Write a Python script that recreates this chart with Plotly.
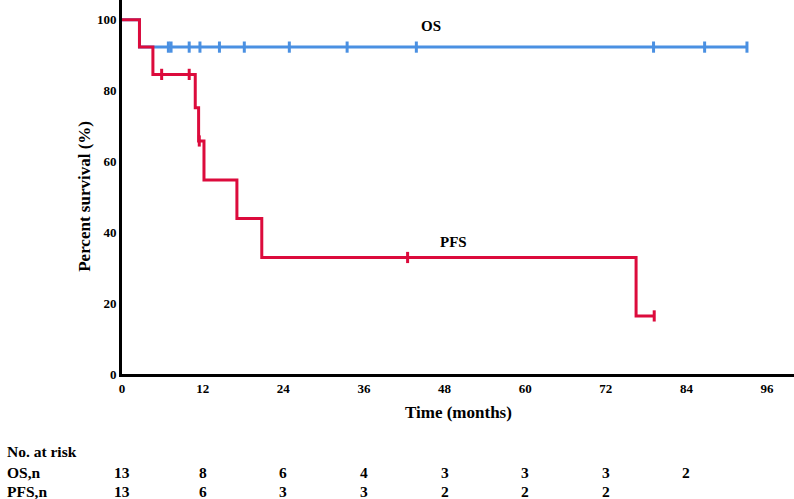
import plotly.graph_objects as go

# ---- data ----
pfs_times = [0, 2.6, 4.6, 10.9, 11.4, 12.2, 17.1, 20.8, 76.5, 79.2]
pfs_surv = [100, 92.3, 84.6, 75.2, 65.8, 54.8, 43.9, 32.9, 16.4, 16.4]
pfs_cens_t = [5.9, 10.0, 11.5, 42.5, 79.2]
pfs_cens_s = [84.6, 84.6, 65.8, 32.9, 16.4]

os_times = [0, 2.6, 93.0]
os_surv = [100, 92.3, 92.3]
os_cens_t = [6.9, 7.3, 10.0, 11.6, 14.5, 18.2, 24.9, 33.5, 43.8, 79.1, 86.7, 93.0]
os_cens_s = [92.3] * len(os_cens_t)

x_ticks = [0, 12, 24, 36, 48, 60, 72, 84, 96]
y_ticks = [0, 20, 40, 60, 80, 100]

risk_times = [0, 12, 24, 36, 48, 60, 72, 84]
os_risk = [13, 8, 6, 4, 3, 3, 3, 2]
pfs_risk = [13, 6, 3, 3, 2, 2, 2]

RED = "#DC0B3C"
BLUE = "#4A90E2"
FONT = "Liberation Serif"

fig = go.Figure()
fig.add_trace(go.Scatter(x=os_times, y=os_surv, mode="lines", line=dict(color=BLUE, width=3, shape="hv"),
                         showlegend=False, hoverinfo="skip"))
fig.add_trace(go.Scatter(x=os_cens_t, y=os_cens_s, mode="markers",
                         marker=dict(symbol="line-ns", size=8, line=dict(color=BLUE, width=3)),
                         showlegend=False, hoverinfo="skip"))
fig.add_trace(go.Scatter(x=pfs_times, y=pfs_surv, mode="lines", line=dict(color=RED, width=3, shape="hv"),
                         showlegend=False, hoverinfo="skip"))
fig.add_trace(go.Scatter(x=pfs_cens_t, y=pfs_cens_s, mode="markers",
                         marker=dict(symbol="line-ns", size=8, line=dict(color=RED, width=3)),
                         showlegend=False, hoverinfo="skip"))

bold = dict(family=FONT, color="black", weight="bold")

ann = []
ann.append(dict(x=46.0, y=98.3, xref="x", yref="y", text="OS", showarrow=False,
                font=dict(size=15, **bold)))
ann.append(dict(x=49.3, y=37.4, xref="x", yref="y", text="PFS", showarrow=False,
                font=dict(size=15, **bold)))
ann.append(dict(x=0.5, y=-0.104, xref="paper", yref="paper", text="Time (months)", showarrow=False,
                font=dict(size=17, **bold), yanchor="middle"))
ann.append(dict(x=-0.073, y=0.475, xref="paper", yref="paper", text="Percent survival (%)", showarrow=False,
                textangle=-90, font=dict(size=17, **bold)))

row_y = {"head": -0.2059, "os": -0.2634, "pfs": -0.3142}
lx = (5 - 122) / 672
ann.append(dict(x=lx, y=row_y["head"], xref="paper", yref="paper", text="No. at risk", showarrow=False,
                xanchor="left", yanchor="middle", font=dict(size=15.5, **bold)))
ann.append(dict(x=lx, y=row_y["os"], xref="paper", yref="paper", text="OS,n", showarrow=False,
                xanchor="left", yanchor="middle", font=dict(size=15.5, **bold)))
ann.append(dict(x=lx, y=row_y["pfs"], xref="paper", yref="paper", text="PFS,n", showarrow=False,
                xanchor="left", yanchor="middle", font=dict(size=15.5, **bold)))
for t, n in zip(risk_times, os_risk):
    ann.append(dict(x=t, y=row_y["os"], xref="x", yref="paper", text=str(n), showarrow=False,
                    yanchor="middle", font=dict(size=15.5, **bold)))
for t, n in zip(risk_times, pfs_risk):
    ann.append(dict(x=t, y=row_y["pfs"], xref="x", yref="paper", text=str(n), showarrow=False,
                    yanchor="middle", font=dict(size=15.5, **bold)))

fig.update_layout(
    width=794, height=499,
    margin=dict(l=122, r=0, t=0, b=125),
    plot_bgcolor="white", paper_bgcolor="white",
    annotations=ann,
    xaxis=dict(range=[0, 100], tickvals=x_ticks, showgrid=False, zeroline=False,
               showline=True, linecolor="black", linewidth=3, ticks="",
               tickfont=dict(size=13, **bold)),
    yaxis=dict(range=[0, 105.6], tickvals=y_ticks, showgrid=False, zeroline=False,
               showline=True, linecolor="black", linewidth=3, ticks="",
               tickfont=dict(size=13, **bold)),
)

fig.write_html("out.html")
